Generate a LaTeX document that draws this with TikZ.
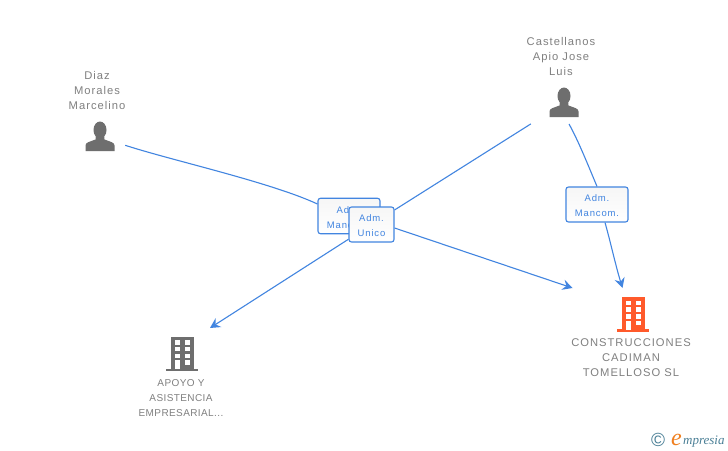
\documentclass[tikz,border=0pt]{standalone}
\usepackage{fontspec}
\setmainfont{Liberation Sans}
\newfontfamily\logofont{Liberation Serif}
\newfontfamily\wideA[LetterSpace=9]{Liberation Sans}
\newfontfamily\wideB[LetterSpace=4]{Liberation Sans}
\usetikzlibrary{arrows.meta,backgrounds,calc}
\definecolor{linkblue}{HTML}{4285E0}
\definecolor{labgrey}{HTML}{808080}
\definecolor{icongrey}{HTML}{6E6E6E}
\definecolor{iconorange}{HTML}{FF5A2B}
\definecolor{logoteal}{HTML}{4A7F96}
\definecolor{logoorange}{HTML}{F08020}
\tikzset{
  x=1pt,y=-1pt,
  link/.style={draw=linkblue,line width=1.1pt},
  arrowed/.style={link,-{Stealth[length=10pt,width=10.5pt,inset=3.5pt]}},
  rolebox/.style={draw=linkblue,line width=1.1pt,rounded corners=2.5pt,shade,top color=gray!7,bottom color=white,text=linkblue,font=\wideA\fontsize{9.5}{15}\selectfont,align=center,inner sep=0pt},
  caption/.style={text=labgrey,align=center,inner sep=0pt,font=\wideA\fontsize{11.2}{15}\selectfont},
  smallcap/.style={text=labgrey,align=center,inner sep=0pt,font=\wideB\fontsize{10}{15}\selectfont},
  holder/.style={inner sep=0pt},
}
\newcommand{\boxline}[1]{\raisebox{-2pt}[7pt][2pt]{#1}}
\newcommand{\personicon}[1]{%
  \begin{scope}[shift={(#1)}]
  \fill[icongrey] (0,-7) ellipse [x radius=6.5,y radius=8.5];
  \fill[icongrey] (-14.5,14) -- (-14.5,8.5) .. controls (-14.5,5.5) and (-11,5) .. (-4.5,2.5)
    -- (-4,-2) -- (4,-2) -- (4.5,2.5) .. controls (11,5) and (14.5,5.5) .. (14.5,8.5) -- (14.5,14) -- cycle;
  \end{scope}}
\newcommand{\buildingicon}[2]{%
  \begin{scope}[shift={(#1)}]
  \fill[#2] (-11.5,-17) rectangle (11.5,15);
  \fill[#2] (-16,15) rectangle (16,17.5);
  \foreach \dx in {-7,3}{\foreach \dy in {-13.5,-6.7,0}{
    \fill[white] (\dx,\dy) rectangle +(5,4.5);}}
  \fill[white] (-7,6.8) rectangle (-2.5,15.5);
  \fill[white] (3,6.8) rectangle (8,11.3);
  \end{scope}}
\begin{document}
\begin{tikzpicture}
\useasboundingbox (0,0) rectangle (728,450);
\begin{pgfonlayer}{background}
\fill[white] (0,0) rectangle (728,450);
\end{pgfonlayer}

% invisible icon holders
\node[holder,minimum width=50pt,minimum height=20pt] (diaz) at (100,137) {};
\node[holder,minimum width=66pt,minimum height=42pt] (cast) at (564,103) {};
\node[holder,minimum width=40pt,minimum height=36pt] (apoyo) at (182,353.5) {};
\node[holder,minimum width=40pt,minimum height=36pt] (constr) at (633,314) {};
\coordinate (castb) at (569,124);
\coordinate (endA) at (572.5,288);
\coordinate (endB) at (622.5,288);
\coordinate (endC) at (210,328);

% icons
\personicon{diaz}
\personicon{cast}
\buildingicon{apoyo}{icongrey}
\buildingicon{constr}{iconorange}

% captions
\node[caption] (tdiaz) at (97,90) {Diaz\\Morales\\Marcelino};
\node[caption] (tcast) at (561,56) {Castellanos\\Apio Jose\\Luis};
\node[caption] (tconstr) at (631,358) {CONSTRUCCIONES\\CADIMAN\\TOMELLOSO SL};
\node[smallcap] (tapoyo) at (181,398.5) {APOYO Y\\ASISTENCIA\\EMPRESARIAL...};

% role boxes
\node[rolebox,minimum width=62pt,minimum height=35.5pt] (mancA) at (349,216) {\boxline{Adm.}\\\boxline{Mancom.}};
\node[rolebox,minimum width=45pt,minimum height=35pt] (unico) at (371.5,224.5) {\boxline{Adm.}\\\boxline{Unico}};
\node[rolebox,minimum width=62pt,minimum height=35pt] (mancB) at (597,204.5) {\boxline{Adm.}\\\boxline{Mancom.}};

% connectors
\begin{pgfonlayer}{background}
\draw[link] (diaz) .. controls (170,160) and (270,182) .. ($(mancA.west)+(0,-12)$);
\draw[link] (cast) -- (unico);
\draw[link] (castb) .. controls (578,140) and (588,165) .. (mancB.north);
\draw[arrowed] ($(mancB.south)+(8,0)$) .. controls (610,240) and (616,267) .. (endB);
\draw[arrowed] ($(unico.east)+(0,3.5)$) -- (endA);
\draw[arrowed] (unico) -- (endC);
\end{pgfonlayer}

% logo
\node[inner sep=0pt,text=logoteal,font=\fontsize{19}{19}\selectfont] (copy) at (658,439.5) {©};
\node[inner sep=0pt,anchor=base west,text=logoorange,font=\logofont\itshape\fontsize{24}{24}\selectfont] (logoe) at (671,445) {e};
\node[inner sep=0pt,anchor=base west,text=logoteal,font=\logofont\itshape\fontsize{13}{13}\selectfont] (logot) at (683,444) {mpresia};
\end{tikzpicture}
\end{document}
